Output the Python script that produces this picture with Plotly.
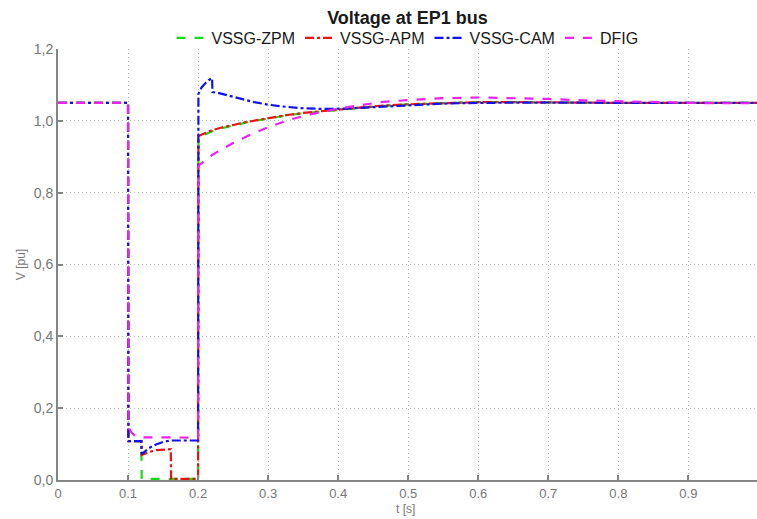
import plotly.graph_objects as go

# ---- data ----
t_zpm = [0, 0.1, 0.1005, 0.119, 0.1195, 0.2, 0.2005, 0.21, 0.22, 0.235, 0.25, 0.27, 0.29, 0.31,
         0.33, 0.35, 0.375, 0.4, 0.43, 0.46, 0.5, 0.55, 0.6, 0.65, 0.7, 0.8, 0.9, 1.0]
v_zpm = [1.05, 1.05, 0.108, 0.108, 0.003, 0.003, 0.953, 0.962, 0.971, 0.980, 0.987, 0.996, 1.003,
         1.010, 1.016, 1.021, 1.026, 1.031, 1.036, 1.041, 1.046, 1.050, 1.052, 1.052, 1.051, 1.050,
         1.050, 1.050]

t_apm = [0, 0.1, 0.1005, 0.119, 0.1195, 0.13, 0.14, 0.15, 0.161, 0.1615, 0.2, 0.2005, 0.21, 0.22,
         0.235, 0.25, 0.27, 0.29, 0.31, 0.33, 0.35, 0.375, 0.4, 0.43, 0.46, 0.5, 0.55, 0.6, 0.65,
         0.7, 0.8, 0.9, 1.0]
v_apm = [1.05, 1.05, 0.108, 0.108, 0.070, 0.078, 0.083, 0.085, 0.086, 0.003, 0.003, 0.958, 0.966,
         0.974, 0.982, 0.989, 0.997, 1.004, 1.011, 1.017, 1.022, 1.027, 1.032, 1.037, 1.042, 1.046,
         1.050, 1.052, 1.052, 1.051, 1.050, 1.050, 1.050]

t_cam = [0, 0.1, 0.1005, 0.119, 0.1195, 0.125, 0.13, 0.14, 0.15, 0.16, 0.2, 0.2005, 0.205, 0.21,
         0.215, 0.22, 0.2205, 0.23, 0.245, 0.26, 0.28, 0.3, 0.32, 0.35, 0.38, 0.41, 0.44, 0.47, 0.5,
         0.55, 0.6, 0.65, 0.7, 0.8, 0.9, 1.0]
v_cam = [1.05, 1.05, 0.108, 0.108, 0.072, 0.082, 0.089, 0.099, 0.106, 0.110, 0.110, 1.075, 1.093,
         1.104, 1.113, 1.119, 1.080, 1.077, 1.070, 1.062, 1.052, 1.045, 1.040, 1.035, 1.033, 1.034,
         1.037, 1.040, 1.044, 1.048, 1.050, 1.051, 1.051, 1.050, 1.050, 1.050]

t_dfig = [0, 0.1, 0.1005, 0.103, 0.106, 0.11, 0.115, 0.2, 0.2005, 0.21, 0.22, 0.235, 0.25, 0.275,
          0.3, 0.33, 0.36, 0.4, 0.43, 0.46, 0.5, 0.55, 0.6, 0.65, 0.7, 0.75, 0.8, 0.85, 0.9, 0.95,
          1.0]
v_dfig = [1.05, 1.05, 0.150, 0.138, 0.130, 0.123, 0.119, 0.118, 0.875, 0.890, 0.905, 0.922, 0.938,
          0.962, 0.982, 1.003, 1.018, 1.034, 1.044, 1.052, 1.058, 1.063, 1.065, 1.064, 1.061, 1.057,
          1.054, 1.052, 1.050, 1.049, 1.049]

series_names = ["VSSG-ZPM", "VSSG-APM", "VSSG-CAM", "DFIG"]
x_ticks = [0, 0.1, 0.2, 0.3, 0.4, 0.5, 0.6, 0.7, 0.8, 0.9]
x_ticklabels = ["0", "0.1", "0.2", "0.3", "0.4", "0.5", "0.6", "0.7", "0.8", "0.9"]
y_ticks = [0, 0.2, 0.4, 0.6, 0.8, 1.0, 1.2]
y_ticklabels = ["0,0", "0,2", "0,4", "0,6", "0,8", "1,0", "1,2"]

# ---- figure ----
styles = [("#11dd11", "dash"), ("#ee1111", "dashdot"), ("#1111ee", "dashdot"), ("#ee22ee", "dash")]
data = [(t_zpm, v_zpm), (t_apm, v_apm), (t_cam, v_cam), (t_dfig, v_dfig)]

fig = go.Figure()
for (tt, vv), name, (col, dash) in zip(data, series_names, styles):
    fig.add_trace(go.Scatter(x=tt, y=vv, mode="lines", name=name,
                             line=dict(color=col, dash=dash, width=2.2)))

W, H = 757, 519
ML, MT, MR, MB = 58, 49, 0, 39
plot_h = H - MT - MB
gray = "#858585"
fig.update_layout(
    width=W, height=H,
    margin=dict(l=ML, r=MR, t=MT, b=MB, autoexpand=False),
    paper_bgcolor="white", plot_bgcolor="white",
    font=dict(family="Liberation Sans, Arial, sans-serif", color="#222"),
    title=dict(text="<b>Voltage at EP1 bus</b>", x=0.5, xref="paper", xanchor="center",
               y=1 - 18 / H, yanchor="middle", font=dict(size=18, color="#1a1a1a"),
               automargin=False),
    legend=dict(orientation="h", x=0.5, xanchor="center", y=1 + 11 / plot_h, yanchor="middle",
                font=dict(size=16, color="#1a1a1a"), bgcolor="rgba(0,0,0,0)",
                itemwidth=30, tracegroupgap=0),
    showlegend=True,
    annotations=[dict(text="t [s]", xref="paper", yref="paper", x=0.497, y=-(509 - (H - MB)) / plot_h,
                      xanchor="center", yanchor="middle", showarrow=False,
                      font=dict(size=12, color="#777"))],
)
fig.update_xaxes(range=[0, 0.998], tickvals=x_ticks, ticktext=x_ticklabels, automargin=False,
                 showline=True, linecolor=gray, linewidth=2,
                 ticks="inside", ticklen=5, tickcolor=gray, tickwidth=1.5,
                 showgrid=True, gridcolor="#bdbdbd", griddash="1px,3px", gridwidth=1,
                 zeroline=False, tickfont=dict(size=13, color="#777"))
fig.update_yaxes(range=[0, 1.2], tickvals=y_ticks, ticktext=y_ticklabels, automargin=False,
                 showline=True, linecolor=gray, linewidth=2,
                 ticks="inside", ticklen=5, tickcolor=gray, tickwidth=1.5,
                 showgrid=True, gridcolor="#bdbdbd", griddash="1px,3px", gridwidth=1,
                 zeroline=False, tickfont=dict(size=14, color="#777"),
                 title=dict(text="V [pu]", font=dict(size=12, color="#777"), standoff=6))

fig.write_html("out.html", config={"displayModeBar": False},
               post_script="document.body.style.margin='0px';document.body.style.overflow='hidden';")
